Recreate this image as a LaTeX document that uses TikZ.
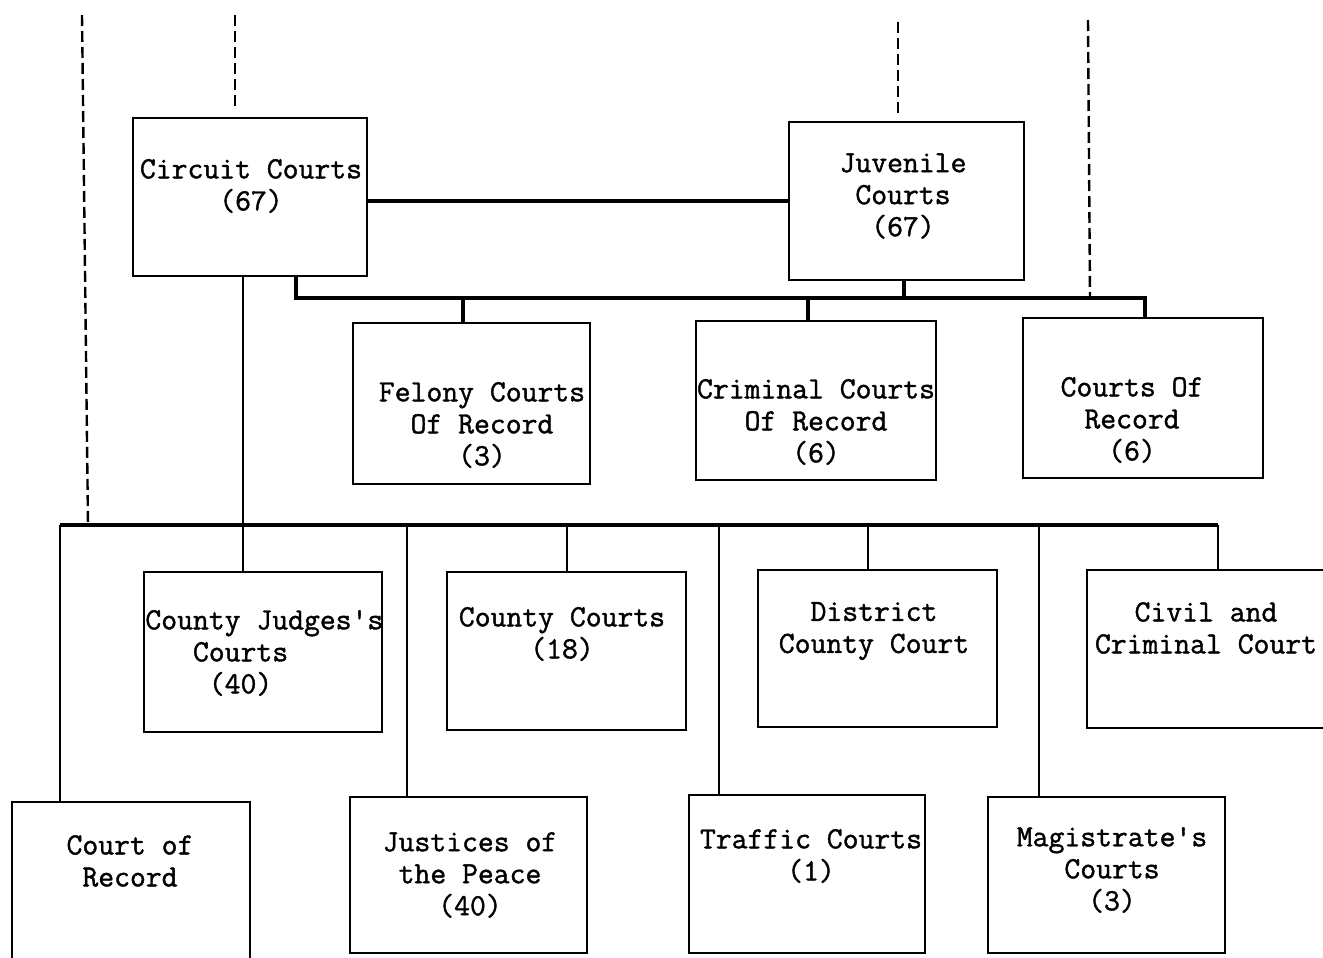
\documentclass[tikz,border=0pt]{standalone}
\usepackage{fontspec}
\newfontfamily\typew{Latin Modern Mono}[FakeBold=1.3]
\usetikzlibrary{fit,calc}
\begin{document}
\begin{tikzpicture}[x=0.5pt,y=-0.5pt,
  box/.style={draw, line width=1.4pt, inner sep=0pt},
  lbl/.style={font=\typew\fontsize{15.4}{16}\selectfont, align=center, inner sep=0pt},
  link/.style={line width=1pt},
  bus/.style={line width=1.8pt},
  guide/.style={dashed, dash pattern=on 5.5pt off 2.5pt, line width=1.2pt}]

\fill[white] (0,0) rectangle (1323,958);
\useasboundingbox (0,0) rectangle (1323,958);

% top row
\node[box, fit={(133,118)(367,276)}] (circuit) {};
\node[lbl] (circuit-t) at (251,186) {Circuit Courts\\(67)};
\node[box, fit={(789,122)(1024,280)}] (juvenile) {};
\node[lbl] (juvenile-t) at (903,196) {Juvenile\\Courts\\(67)};

% record courts
\node[box, fit={(353,323)(590,484)}] (felony) {};
\node[lbl] (felony-t) at (482,425) {Felony Courts\\Of Record\\(3)};
\node[box, fit={(696,321)(936,480)}] (criminal) {};
\node[lbl] (criminal-t) at (816,422) {Criminal Courts\\Of Record\\(6)};
\node[box, fit={(1023,318)(1263,478)}] (courec) {};
\node[lbl] (courec-t) at (1132,420) {Courts Of\\Record\\(6)};

% middle row
\node[box, fit={(144,572)(382,732)}] (cjudge) {};
\node[lbl, align=left, anchor=west] (cjudge-t) at (145,653)
  {County Judges's\\\hphantom{Cou}Courts\\\hphantom{Coun}(40)};
\node[box, fit={(447,572)(686,730)}] (county) {};
\node[lbl] (county-t) at (562,634) {County Courts\\(18)};
\node[box, fit={(758,570)(997,727)}] (district) {};
\node[lbl] (district-t) at (874,631) {District\\County Court};
\node[box, fit={(1087,570)(1332,728)}] (civil) {};
\node[lbl] (civil-t) at (1206,628) {Civil and\\Criminal Court};

% bottom row
\node[box, fit={(12,802)(250,966)}] (korec) {};
\node[lbl] (korec-t) at (130,861) {Court of\\Record};
\node[box, fit={(350,797)(587,953)}] (justices) {};
\node[lbl] (justices-t) at (470,875) {Justices of\\the Peace\\(40)};
\node[box, fit={(689,795)(925,953)}] (traffic) {};
\node[lbl] (traffic-t) at (811,856) {Traffic Courts\\(1)};
\node[box, fit={(988,797)(1225,953)}] (magis) {};
\node[lbl] (magis-t) at (1112,870) {Magistrate's\\Courts\\(3)};

% junction points on the two buses
\coordinate (ubL) at (296,298);
\coordinate (ubR) at (1145,298);
\coordinate (uj1) at (463,298);
\coordinate (uj2) at (808,298);
\coordinate (uj3) at (904,298);
\coordinate (lbL) at (60,525);
\coordinate (lbR) at (1218,525);
\coordinate (lj1) at (243,525);
\coordinate (lj2) at (407,525);
\coordinate (lj3) at (567,525);
\coordinate (lj4) at (719,525);
\coordinate (lj5) at (868,525);
\coordinate (lj6) at (1039,525);

% circuit -- juvenile
\draw[bus] (circuit.east |- juvenile.west) -- (juvenile.west);

% upper bus
\draw[bus] (circuit.south -| ubL) -- (ubL) -- (ubR) -- (courec.north -| ubR);
\draw[bus] (juvenile.south -| uj3) -- (uj3);
\draw[bus] (uj1) -- (felony.north -| uj1);
\draw[bus] (uj2) -- (criminal.north -| uj2);

% lower bus
\draw[bus] (lbL) -- (lbR);
\draw[link] (circuit.south -| lj1) -- (cjudge.north -| lj1);
\draw[link] (lbL) -- (korec.north -| lbL);
\draw[link] (lbR) -- (civil.north -| lbR);
\draw[link] (lj2) -- (justices.north -| lj2);
\draw[link] (lj3) -- (county.north -| lj3);
\draw[link] (lj4) -- (traffic.north -| lj4);
\draw[link] (lj5) -- (district.north -| lj5);
\draw[link] (lj6) -- (magis.north -| lj6);

% dashed guide lines
\coordinate (g1) at (82,15);
\coordinate (g1e) at (88,525);
\coordinate (g2) at (235,15);
\coordinate (g3) at (898,22);
\coordinate (g4) at (1088,20);
\coordinate (g4e) at (1090,296);
\draw[guide] (g1) -- (g1e);
\draw[guide, shorten >=5pt] (g2) -- (circuit.north -| g2);
\draw[guide, shorten >=3.5pt] (g3) -- (juvenile.north -| g3);
\draw[guide] (g4) -- (g4e);
\end{tikzpicture}
\end{document}
